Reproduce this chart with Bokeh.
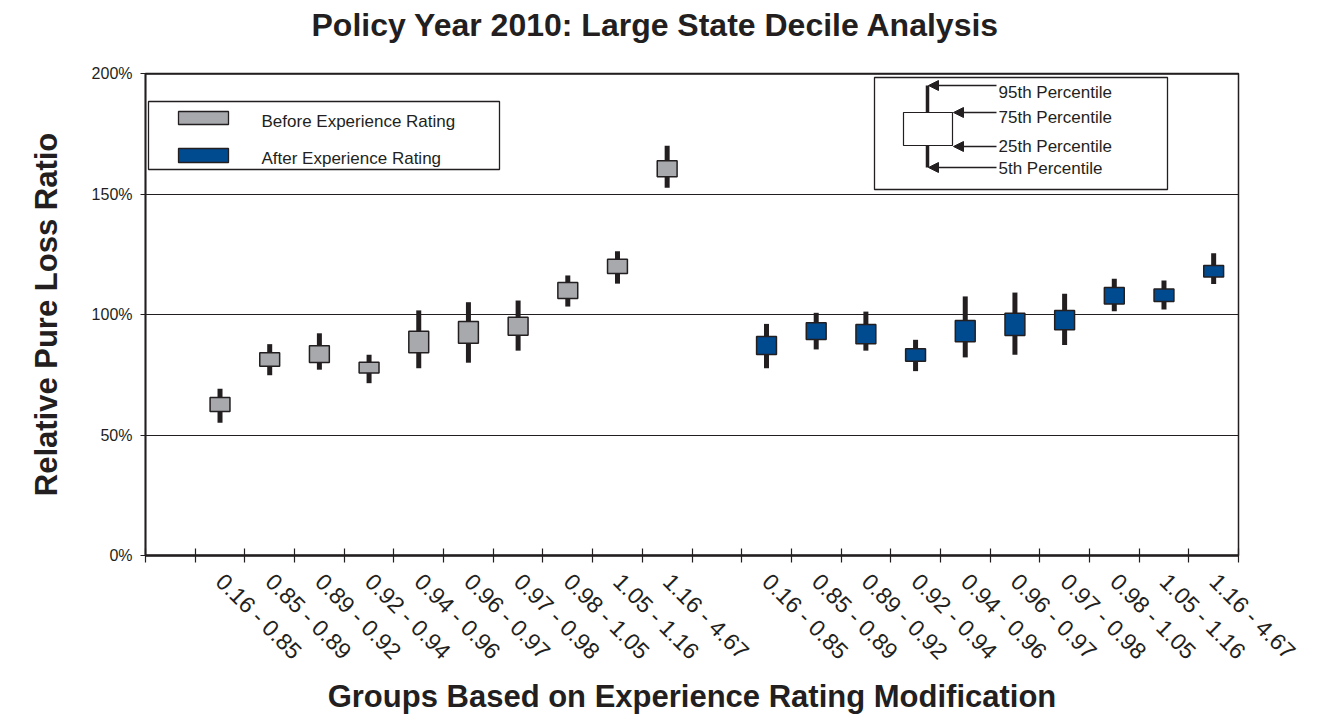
import math
from bokeh.plotting import figure
from bokeh.models import (Range1d, FixedTicker, CustomJSTickFormatter, Arrow, NormalHead, Span,
                          LinearAxis, Title)
from bokeh.core.properties import value
from bokeh.embed import file_html
from bokeh.resources import INLINE

# ---------------- data ----------------
title_text = "Policy Year 2010: Large State Decile Analysis"
x_title = "Groups Based on Experience Rating Modification"
y_title = "Relative Pure Loss Ratio"

groups = ["0.16 - 0.85", "0.85 - 0.89", "0.89 - 0.92", "0.92 - 0.94", "0.94 - 0.96",
          "0.96 - 0.97", "0.97 - 0.98", "0.98 - 1.05", "1.05 - 1.16", "1.16 - 4.67"]

before_p95 = [69.2, 87.7, 92.2, 83.3, 101.7, 105.1, 105.8, 116.2, 126.2, 170.0]
before_p75 = [65.6, 84.1, 87.0, 80.2, 93.1, 97.1, 98.9, 113.3, 122.9, 163.8]
before_p25 = [59.8, 78.5, 80.1, 75.7, 84.1, 88.1, 91.4, 106.6, 117.0, 157.2]
before_p05 = [55.1, 74.8, 77.1, 71.5, 77.7, 80.0, 85.0, 103.3, 112.8, 152.6]

after_p95 = [96.1, 100.7, 101.2, 89.5, 107.5, 109.1, 108.6, 114.8, 114.1, 125.4]
after_p75 = [90.9, 96.6, 95.9, 85.8, 97.5, 100.5, 101.7, 111.2, 110.6, 120.3]
after_p25 = [83.4, 89.6, 87.9, 80.6, 88.7, 91.3, 93.7, 104.4, 105.4, 115.6]
after_p05 = [77.7, 85.5, 85.0, 76.5, 82.2, 83.3, 87.3, 101.4, 102.1, 112.7]

y_ticks = [0, 50, 100, 150, 200]
y_tick_labels = ["0%", "50%", "100%", "150%", "200%"]
series_names = ["Before Experience Rating", "After Experience Rating"]
percentile_names = ["95th Percentile", "75th Percentile", "25th Percentile", "5th Percentile"]

# ---------------- layout ----------------
n = len(groups)
n_slots = 2 * n + 2
x_before = [i + 1.5 for i in range(n)]
x_after = [i + n + 2.5 for i in range(n)]
centers = x_before + x_after
center_labels = groups + groups

FONT = "Liberation Sans"
INK = "#231f20"
GRAY = "#a7a9ac"
BLUE = "#004a8f"

W, H = 1310, 716
ML, MR, MT, MB = 145, 72, 73, 161
FW = W - ML - MR
FH = H - MT - MB

# helpers converting picture pixel positions to data units (decorations only)
def X(px):
    return (px - ML) * n_slots / FW

def Y(py):
    return (H - MB - py) * 200.0 / FH

p = figure(width=W, height=H, output_backend="svg", toolbar_location=None,
           x_range=Range1d(0, n_slots), y_range=Range1d(0, 200),
           min_border_left=ML, min_border_right=MR, min_border_top=MT, min_border_bottom=MB)
p.background_fill_color = "white"
p.border_fill_color = "white"
p.outline_line_color = INK
p.outline_line_width = 1.5
p.title.text = ""
p.title.visible = False

# ---------------- bottom x axis ----------------
xa = p.below[0]
xa.ticker = FixedTicker(ticks=centers, minor_ticks=list(range(0, n_slots + 1)))
xa.formatter = CustomJSTickFormatter(args=dict(pos=centers, lab=center_labels), code="""
const i = pos.findIndex(v => Math.abs(v - tick) < 1e-6);
return i >= 0 ? lab[i] : "";
""")
xa.major_label_orientation = -math.pi / 4
xa.major_label_text_font = FONT
xa.major_label_text_font_size = "23px"
xa.major_label_text_color = INK
xa.major_tick_in = 0
xa.major_tick_out = 0
xa.minor_tick_in = 7
xa.minor_tick_out = 7
xa.minor_tick_line_color = INK
xa.minor_tick_line_width = 1.2
xa.major_label_standoff = 15
xa.axis_line_width = 2.5
xa.axis_line_color = INK
xa.axis_label = x_title
xa.axis_label_text_font = FONT
xa.axis_label_text_font_style = "bold"
xa.axis_label_text_font_size = "31px"
xa.axis_label_text_color = INK
xa.axis_label_standoff = 2

# invisible spacer axis just above the frame, so the title sits higher
spacer = LinearAxis(ticker=FixedTicker(ticks=[1]), major_label_overrides={1: ""},
                    major_label_text_font_size="1px", major_tick_out=29, major_tick_in=0,
                    minor_tick_out=0, minor_tick_in=0, major_label_standoff=0,
                    axis_line_color=None, major_tick_line_color=None, minor_tick_line_color=None)
p.add_layout(spacer, "above")

# title (added after the spacer, so it is placed farther from the frame)
p.add_layout(Title(text=title_text, align="left", offset=166, vertical_align="bottom", standoff=4,
                   text_font=FONT, text_font_style="bold", text_font_size="32px",
                   text_color=INK), "above")

# ---------------- y axis ----------------
ya = p.left[0]
ya.ticker = FixedTicker(ticks=y_ticks)
ya.major_label_overrides = {t: l for t, l in zip(y_ticks, y_tick_labels)}
ya.major_label_text_font = FONT
ya.major_label_text_font_size = "16px"
ya.major_label_text_color = INK
ya.major_tick_out = 5
ya.major_tick_in = 0
ya.minor_tick_out = 0
ya.minor_tick_in = 0
ya.major_label_standoff = 8
ya.axis_line_width = 1.8
ya.axis_line_color = INK
ya.major_tick_line_color = INK
ya.axis_label = y_title
ya.axis_label_text_font = FONT
ya.axis_label_text_font_style = "bold"
ya.axis_label_text_font_size = "31px"
ya.axis_label_text_color = INK
ya.axis_label_standoff = 25

p.xgrid.visible = False
p.ygrid.ticker = FixedTicker(ticks=y_ticks[1:-1])
p.ygrid.grid_line_color = INK
p.ygrid.grid_line_width = 1
p.add_layout(Span(location=y_ticks[-1], dimension="width", line_color=INK, line_width=2.5))

# ---------------- boxes ----------------
p.segment(x0=x_before, y0=before_p05, x1=x_before, y1=before_p95, line_width=5, line_color=INK)
p.vbar(x=x_before, width=0.4, bottom=before_p25, top=before_p75,
       fill_color=GRAY, line_color=INK, line_width=1.5)
p.segment(x0=x_after, y0=after_p05, x1=x_after, y1=after_p95, line_width=5, line_color=INK)
p.vbar(x=x_after, width=0.4, bottom=after_p25, top=after_p75,
       fill_color=BLUE, line_color=INK, line_width=1.5)

# ---------------- series legend ----------------
p.quad(left=[X(148)], right=[X(499)], top=[Y(101)], bottom=[Y(169)],
       fill_color="white", line_color=INK, line_width=1.3)
p.quad(left=[X(178), X(178)], right=[X(228), X(228)], top=[Y(111), Y(148)], bottom=[Y(124), Y(162)],
       fill_color=[GRAY, BLUE], line_color=INK, line_width=1.3)
p.text(x=[X(261), X(261)], y=[Y(121), Y(158)], text=series_names,
       text_font=value(FONT), text_font_size="17px", text_color=INK,
       text_align="left", text_baseline="middle")

# ---------------- percentile key ----------------
p.quad(left=[X(874)], right=[X(1167)], top=[Y(77)], bottom=[Y(189)],
       fill_color="white", line_color=INK, line_width=1.3)
p.segment(x0=[X(927), X(927)], y0=[Y(85), Y(145)], x1=[X(927), X(927)], y1=[Y(112), Y(167)],
          line_width=3.5, line_color=INK)
p.quad(left=[X(903)], right=[X(952)], top=[Y(112)], bottom=[Y(145)],
       fill_color="white", line_color=INK, line_width=1.2)
arrow_rows = [(85, 928), (112, 953), (146, 953), (167, 928)]
for yy, xe in arrow_rows:
    p.add_layout(Arrow(end=NormalHead(size=10, fill_color=INK, line_color=INK),
                       x_start=X(996), y_start=Y(yy), x_end=X(xe), y_end=Y(yy),
                       line_color=INK, line_width=1.3))
p.text(x=[X(998)] * 4, y=[Y(92), Y(117), Y(146), Y(168)], text=percentile_names,
       text_font=value(FONT), text_font_size="17px", text_color=INK,
       text_align="left", text_baseline="middle")

open("out.html", "w").write(file_html(p, INLINE))
